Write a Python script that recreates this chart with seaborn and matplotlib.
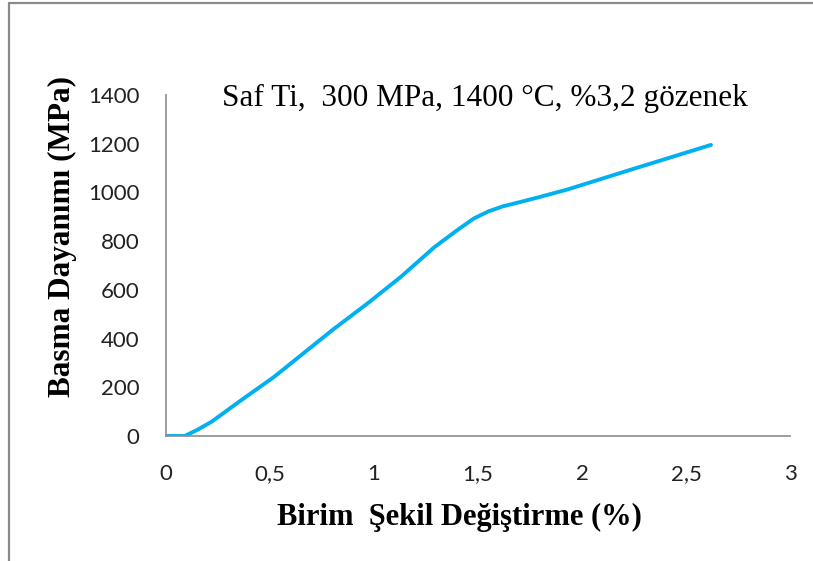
import matplotlib
matplotlib.use("Agg")
import matplotlib.pyplot as plt
from matplotlib.lines import Line2D
import seaborn as sns
import pandas as pd

# Compression test curve for pure Ti
strain = [0.0, 0.09, 0.15, 0.22, 0.35, 0.52, 0.80, 0.97, 1.13, 1.29, 1.40, 1.48, 1.55,
          1.62, 1.70, 1.80, 1.93, 2.23, 2.62]
stress = [0, 0, 25, 59, 140, 243, 435, 545, 654, 775, 845, 893, 922,
          943, 960, 982, 1012, 1092, 1195]

x_ticks = [0, 0.5, 1, 1.5, 2, 2.5, 3]
x_tick_labels = ["0", "0,5", "1", "1,5", "2", "2,5", "3"]
y_ticks = [0, 200, 400, 600, 800, 1000, 1200, 1400]

title_text = "Saf Ti,  300 MPa, 1400 °C, %3,2 gözenek"
x_label = "Birim  Şekil Değiştirme (%)"
y_label = "Basma Dayanımı (MPa)"

sns.set_theme(style="white")
plt.rcParams["font.family"] = ["Lato", "DejaVu Sans"]

df = pd.DataFrame({"strain": strain, "stress": stress})

fig = plt.figure(figsize=(8.13, 5.61), dpi=100)
ax = fig.add_axes([0.2042, 0.2228, 0.7675, 0.6079])

sns.lineplot(data=df, x="strain", y="stress", ax=ax, color="#00B0F0",
             linewidth=2.8, solid_capstyle="round", solid_joinstyle="round")

ax.set_xlim(0, 3)
ax.set_ylim(0, 1400)
ax.set_xticks(x_ticks)
ax.set_xticklabels(x_tick_labels)
ax.set_yticks(y_ticks)
ax.tick_params(axis="both", length=0, labelsize=16, colors="#222222")
ax.tick_params(axis="x", pad=20)
ax.tick_params(axis="y", pad=19)

for side in ("top", "right"):
    ax.spines[side].set_visible(False)
for side in ("left", "bottom"):
    ax.spines[side].set_color("#8c8c8c")
    ax.spines[side].set_linewidth(1.2)

serif = ["Liberation Serif", "DejaVu Serif"]
ax.set_xlabel(x_label, family=serif, fontweight="bold", fontsize=22, color="black")
ax.set_ylabel(y_label, family=serif, fontweight="bold", fontsize=22.5, color="black")
ax.xaxis.set_label_coords(0.471, -0.196)
ax.yaxis.set_label_coords(-0.143, 0.586)
ax.text(0.511, 0.99, title_text, transform=ax.transAxes, ha="center", va="center",
        family=serif, fontsize=22.5, color="black")

# Frame edges along the left and top of the figure
fig.add_artist(Line2D([0.0105, 0.0105], [0, 0.994], transform=fig.transFigure,
                      color="#8a8a8a", linewidth=1.6))
fig.add_artist(Line2D([0.0105, 1.0], [0.994, 0.994], transform=fig.transFigure,
                      color="#8a8a8a", linewidth=1.6))

fig.savefig("out.png", dpi=100, facecolor="white")
